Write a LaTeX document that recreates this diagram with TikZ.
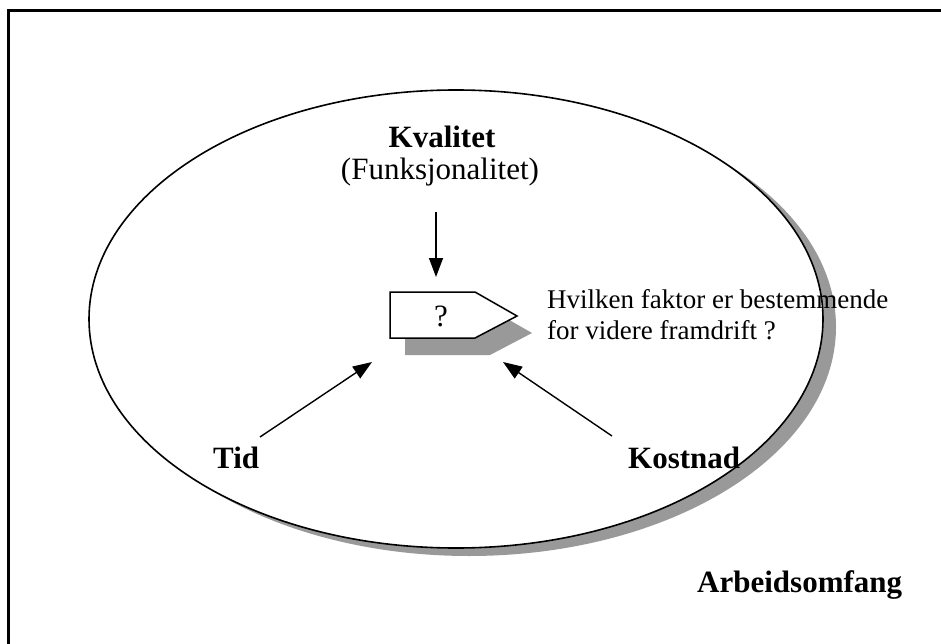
\documentclass[tikz,border=0pt]{standalone}
\usepackage{fontspec}
\setmainfont{Liberation Serif}
\usetikzlibrary{arrows.meta}
\definecolor{shadowgrey}{gray}{0.6}
\begin{document}
\begin{tikzpicture}[x=1pt,y=-1pt,
  shadowfill/.style={fill=shadowgrey, draw=none},
  boldlabel/.style={font=\fontsize{31}{36}\selectfont\bfseries, inner sep=0pt},
  plainlabel/.style={font=\fontsize{31}{36}\selectfont, inner sep=0pt},
  smalltext/.style={font=\fontsize{27}{31}\selectfont, inner sep=0pt},
  pointer/.style={-{Triangle[length=19pt,width=14pt]}, line width=1.4pt}
]
\useasboundingbox (0,0) rectangle (941,644);
\clip (0,0) rectangle (941,644);

% outer frame
\draw[line width=2.5pt] (8.5,10.3) rectangle (1000,700);

% scope ellipse with drop shadow
\fill[shadowfill] (469,327) ellipse [x radius=367pt, y radius=229pt];
\filldraw[fill=white, line width=1.6pt] (456,319) ellipse [x radius=367pt, y radius=229pt];

% decision marker with drop shadow
\fill[shadowfill] (405,309) -- (490,309) -- (532,333) -- (490,355) -- (405,355) -- cycle;
\filldraw[fill=white, line width=1.5pt] (390,292) -- (475,292) -- (517,316) -- (475,338) -- (390,338) -- cycle;
\node[plainlabel, anchor=base] (q) at (441,326) {?};

% labels
\node[boldlabel, anchor=base] (kval) at (442,148) {Kvalitet};
\node[plainlabel, anchor=base] (funk) at (440,180) {(Funksjonalitet)};
\node[boldlabel, anchor=base west] (tid) at (213,468) {Tid};
\node[boldlabel, anchor=base west] (kost) at (628,468) {Kostnad};
\node[boldlabel, anchor=base west] (arb) at (697,592) {Arbeidsomfang};
\node[smalltext, anchor=base west] (hv1) at (547,308) {Hvilken faktor er bestemmende};
\node[smalltext, anchor=base west] (hv2) at (547,339) {for videre framdrift ?};

% arrow end points
\coordinate (kvfrom) at (436,212);
\coordinate (kvto) at (436,277);
\coordinate (tidfrom) at (260,437);
\coordinate (tidto) at (372,362);
\coordinate (kostfrom) at (612,436);
\coordinate (kostto) at (503,362);

\draw[pointer] (kvfrom) -- (kvto);
\draw[pointer] (tidfrom) -- (tidto);
\draw[pointer] (kostfrom) -- (kostto);
\end{tikzpicture}
\end{document}
